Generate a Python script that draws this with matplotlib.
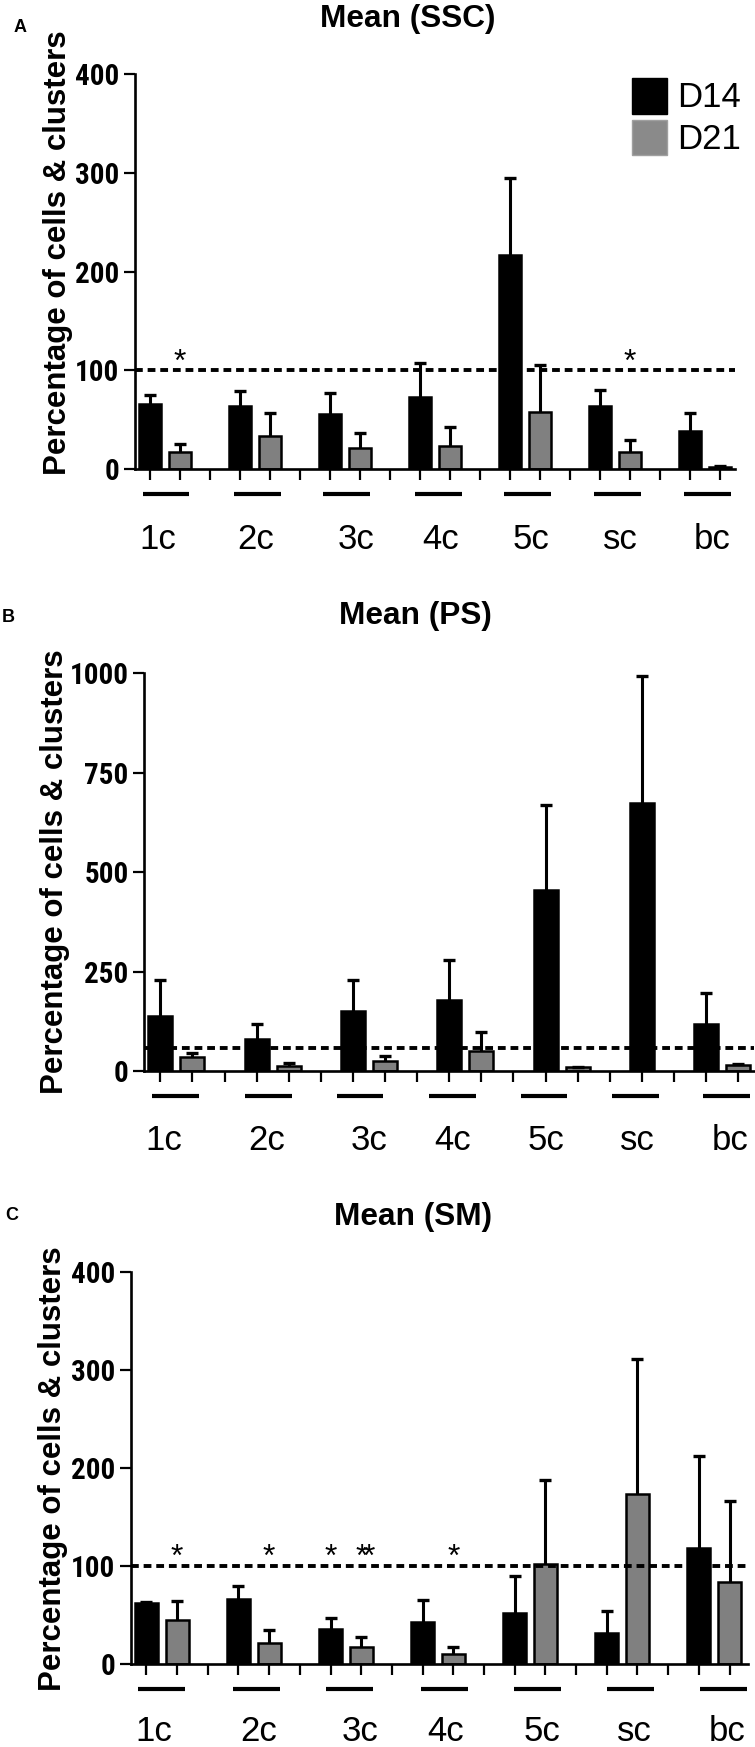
import numpy as np
from matplotlib import pyplot as plt
from matplotlib import font_manager as fm
from matplotlib import transforms as mtrans
from matplotlib.patches import Patch

# values (mean and SEM, % of control)
groups = ['1c', '2c', '3c', '4c', '5c', 'sc', 'bc']
series = ['D14', 'D21']

ssc_d14 = [65.8, 64.0, 55.9, 72.9, 217.0, 64.4, 39.0]
ssc_d14_sem = [9.5, 15.3, 21.7, 34.6, 78.0, 16.3, 18.0]
ssc_d21 = [17.6, 33.9, 22.0, 23.7, 58.0, 18.0, 2.7]
ssc_d21_sem = [7.5, 23.4, 14.3, 18.7, 48.0, 11.2, 0.7]
ssc_ref = 100
ssc_stars = [(0, 'D21', '*'), (5, 'D21', '*')]

ps_d14 = [138.8, 80.3, 150.5, 178.0, 455.7, 673.0, 117.0]
ps_d14_sem = [89.5, 37.6, 77.8, 100.4, 214.0, 320.3, 79.5]
ps_d21 = [36.0, 13.4, 25.9, 50.0, 9.2, np.nan, 15.0]
ps_d21_sem = [10.0, 7.5, 11.7, 47.0, 1.7, np.nan, 2.6]
ps_ref = 57
ps_stars = []

sm_d14 = [62.5, 66.6, 36.5, 43.0, 52.2, 31.7, 118.8]
sm_d14_sem = [1.5, 12.9, 10.3, 22.9, 38.2, 22.2, 93.8]
sm_d21 = [45.4, 22.2, 18.1, 10.6, 102.7, 173.4, 83.6]
sm_d21_sem = [19.4, 12.3, 9.9, 7.4, 85.3, 138.2, 82.9]
sm_ref = 100
sm_stars = [(0, 'D21', '*'), (1, 'D21', '*'), (2, 'D14', '*'),
            (2, 'D21', '**'), (3, 'D21', '*')]

W, H = 755, 1747
fig = plt.figure(figsize=(W / 100, H / 100), dpi=100)

SANS = 'Liberation Sans'
GREY = '#808080'

# tick numbers are a condensed bold face in the original; use one if installed
names = {f.name for f in fm.fontManager.ttflist}
NARROW, TICK_SIZE = SANS, 18
for cand in ['Liberation Sans Narrow', 'Arial Narrow', 'Roboto Condensed']:
    if cand in names:
        NARROW, TICK_SIZE = cand, 21
        break


def px_axes(left, top, right, bottom):
    return fig.add_axes([left / W, 1 - bottom / H, (right - left) / W, (bottom - top) / H])


def draw_panel(ax, d14, d14_sem, d21, d21_sem, ref, stars, lay):
    x14 = np.array(lay['x14'], dtype=float)
    x21 = np.array(lay['x21'], dtype=float)
    bw = 0.75
    ax.bar(x14, d14, bw, color='black', edgecolor='black', lw=1.8, zorder=2)
    ax.bar(x21, d21, bw, color=GREY, edgecolor='black', lw=1.8, zorder=2)
    # one sided error bars (prism style)
    for xx, m, s in [(x14, d14, d14_sem), (x21, d21, d21_sem)]:
        m = np.array(m); s = np.array(s)
        ax.vlines(xx, m, m + s, color='black', lw=2.2, zorder=3)
        ax.plot(xx, m + s, ls='none', marker='_', ms=8, mew=2.4, color='black', zorder=3)

    ax.axhline(ref, color='black', lw=2.8, ls=(0, (2.0, 1.25)), zorder=4)

    for g, s, txt in stars:
        xs = x14[g] if s == 'D14' else x21[g]
        for k, ch in enumerate(txt):
            ax.annotate(ch, (xs, ref), xytext=(k * 5.5, 0), textcoords='offset points',
                        ha='center', va='baseline', fontsize=23, family=SANS, zorder=5)

    ax.set_xlim(lay['xlim'])
    ax.set_ylim(0, lay['ymax'])
    ax.set_xticks(np.arange(lay['nticks']))
    ax.set_xticklabels([])
    ax.set_yticks(lay['yticks'])
    ax.set_yticklabels([str(t) for t in lay['yticks']], family=NARROW,
                       fontweight='bold', fontsize=TICK_SIZE)
    ax.tick_params(axis='both', length=8, width=1.6, direction='out', pad=3.4)
    for sp in ['top', 'right']:
        ax.spines[sp].set_visible(False)
    for sp in ['left', 'bottom']:
        ax.spines[sp].set_linewidth(1.9)

    # group underlines and names below the axis
    ul = mtrans.offset_copy(ax.get_xaxis_transform(), fig=fig, y=-24.7, units='dots')
    for c in lay['ul']:
        ax.plot([c - lay['ulw'] / 2, c + lay['ulw'] / 2], [0, 0], color='black',
                lw=3, solid_capstyle='butt', transform=ul, clip_on=False)
    lt = mtrans.offset_copy(ax.get_xaxis_transform(), fig=fig, y=-lay['labdy'], units='dots')
    for c, name in zip(lay['lab'], groups):
        ax.text(c, 0, name, transform=lt, ha='center', va='center',
                fontsize=25, family=SANS)


lay_a = dict(x14=[0, 3, 6, 9, 12, 15, 18], x21=[1, 4, 7, 10, 13, 16, 19], nticks=20,
             xlim=(-0.5, 19.5), ymax=400, yticks=[0, 100, 200, 300, 400],
             ul=[0.53, 3.57, 6.56, 9.61, 12.58, 15.58, 18.58], ulw=1.56,
             lab=[0.27, 3.53, 6.87, 9.67, 12.7, 15.67, 18.73], labdy=70)
lay_b = dict(x14=[0, 3, 6, 9, 12, 15, 17], x21=[1, 4, 7, 10, 13, 16, 18], nticks=19,
             xlim=(-0.5, 18.5), ymax=1000, yticks=[0, 250, 500, 750, 1000],
             ul=[0.47, 3.36, 6.22, 9.1, 11.95, 14.8, 17.63], ulw=1.46,
             lab=[0.1, 3.3, 6.49, 9.09, 12.0, 14.87, 17.75], labdy=70)
lay_c = dict(x14=[0, 3, 6, 9, 12, 15, 18], x21=[1, 4, 7, 10, 13, 16, 19], nticks=20,
             xlim=(-0.5, 19.6), ymax=400, yticks=[0, 100, 200, 300, 400],
             ul=[0.5, 3.59, 6.62, 9.71, 12.74, 15.78, 18.8], ulw=1.53,
             lab=[0.24, 3.66, 6.95, 9.74, 12.9, 15.89, 18.92], labdy=67)

ax_a = px_axes(135, 74, 735, 469.3)
ax_b = px_axes(144.3, 673.3, 754.2, 1071)
ax_c = px_axes(131, 1272, 748, 1664.3)

draw_panel(ax_a, ssc_d14, ssc_d14_sem, ssc_d21, ssc_d21_sem, ssc_ref, ssc_stars, lay_a)
draw_panel(ax_b, ps_d14, ps_d14_sem, ps_d21, ps_d21_sem, ps_ref, ps_stars, lay_b)
draw_panel(ax_c, sm_d14, sm_d14_sem, sm_d21, sm_d21_sem, sm_ref, sm_stars, lay_c)

# legend only on the first panel
ax_a.legend(handles=[Patch(facecolor='black', edgecolor='black'),
                     Patch(facecolor='#8a8a8a', edgecolor='#a0a0a0')],
            labels=series, loc='upper left', bbox_to_anchor=(0.828, 0.99),
            frameon=False, borderpad=0, borderaxespad=0, handlelength=1.0,
            handleheight=1.2, handletextpad=0.3, labelspacing=0.15,
            prop=dict(family=SANS, size=25))

# titles, panel letters, y labels (pixel positions)
for ttl, (tx, ty) in [('Mean (SSC)', (408, 19)), ('Mean (PS)', (415, 616)),
                      ('Mean (SM)', (413, 1217))]:
    fig.text(tx / W, 1 - ty / H, ttl, ha='center', va='center', fontsize=22.8,
             fontweight='bold', family=SANS)
for let, (lx, ly) in [('A', (20, 27)), ('B', (8, 618)), ('C', (12, 1216))]:
    fig.text(lx / W, 1 - ly / H, let, ha='center', va='center', fontsize=13,
             fontweight='bold', family=SANS)
for yx, yy in [(58, 253), (55, 872), (53, 1469)]:
    fig.text(yx / W, 1 - yy / H, 'Percentage of cells & clusters', rotation=90,
             ha='center', va='center', fontsize=22.5, fontweight='bold', family=SANS)

fig.savefig('out.png', dpi=100)
